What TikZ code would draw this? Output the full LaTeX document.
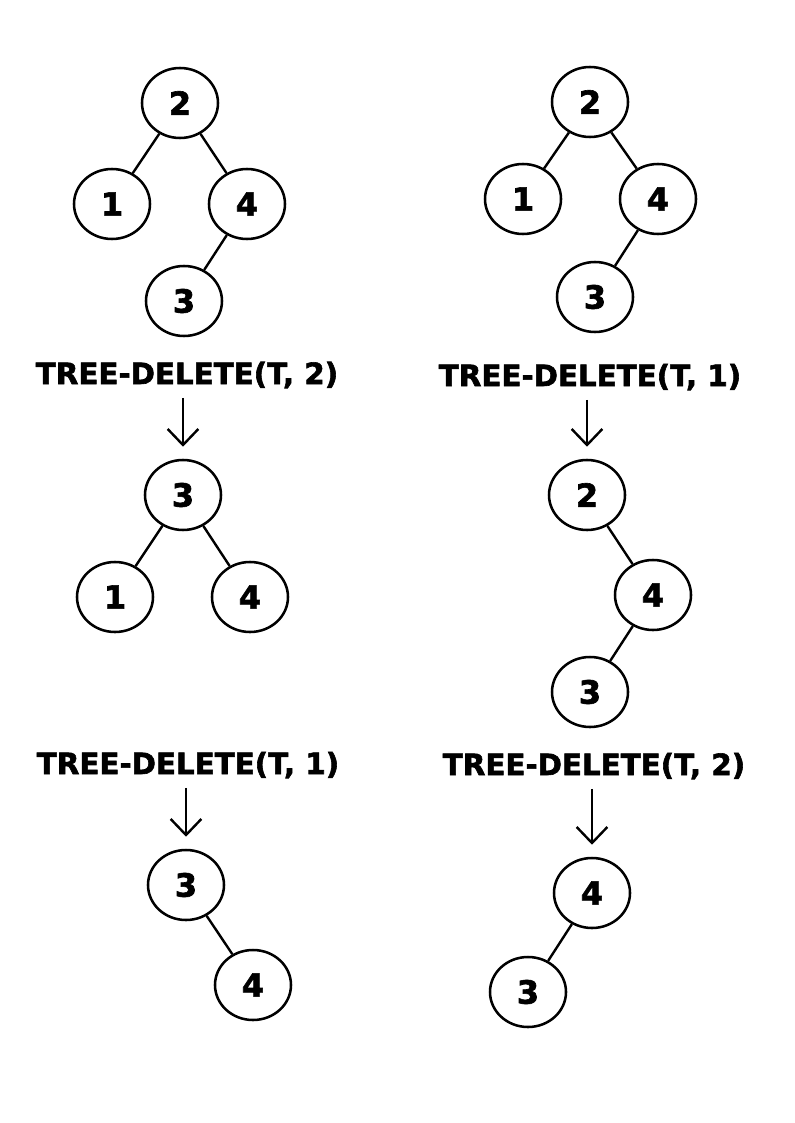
\documentclass[tikz,border=0pt]{standalone}
\usepackage{fontspec}
\setmainfont{DejaVu Sans}[BoldFeatures={FakeBold=2}]
\usetikzlibrary{arrows.meta,shapes.geometric}

\begin{document}
\begin{tikzpicture}[x=0.75pt,y=-0.75pt]
		\useasboundingbox (0,0) rectangle (794,1123);
		\begin{scope}[every node/.style={ellipse,draw,line width=1.9pt,minimum width=57pt,minimum height=52.5pt,inner sep=0pt,font=\bfseries\fontsize{24}{26}\selectfont}]
			% first column
			\node (A2) at (180,103) {2};
			\node (A1) at (112,204) {1};
			\node (A4) at (247,204) {4};
			\node (A3) at (184,301) {3};
			
			\node (B3) at (183,495) {3};
			\node (B1) at (115,597) {1};
			\node (B4) at (250,597) {4};
			
			\node (C3) at (186,885) {3};
			\node (C4) at (253,985) {4};
			
			% second column
			\node (D2) at (590,102) {2};
			\node (D1) at (523,199) {1};
			\node (D4) at (658,199) {4};
			\node (D3) at (595,297) {3};
			
			\node (E2) at (587,495) {2};
			\node (E4) at (653,595) {4};
			\node (E3) at (590,692) {3};
			
			\node (F4) at (592,893) {4};
			\node (F3) at (528,992) {3};
		\end{scope}
		
		\begin{scope}[every node/.style={font=\bfseries\fontsize{22}{26}\selectfont,inner sep=0pt}]
			\node (L1) at (187,375) {TREE-DELETE(T, 2)};
			\node (L2) at (590,377) {TREE-DELETE(T, 1)};
			\node (L3) at (188,765) {TREE-DELETE(T, 1)};
			\node (L4) at (594,766) {TREE-DELETE(T, 2)};
		\end{scope}
		
		\begin{scope}[every edge/.style={draw=black,line width=1.8pt}]
			\path [-] (A2) edge (A1);
			\path [-] (A2) edge (A4);
			\path [-] (A4) edge (A3);
			\path [-] (B3) edge (B1);
			\path [-] (B3) edge (B4);
			\path [-] (C3) edge (C4);
			\path [-] (D2) edge (D1);
			\path [-] (D2) edge (D4);
			\path [-] (D4) edge (D3);
			\path [-] (E2) edge (E4);
			\path [-] (E4) edge (E3);
			\path [-] (F4) edge (F3);
		\end{scope}
		
		\begin{scope}[>={Straight Barb[length=12pt,width=23pt,line width=1.8pt]},
					  every edge/.style={draw=black,line width=1.8pt,shorten <=7pt,shorten >=9pt}]
			\path [->] (L1.south -| B3) edge (B3.north);
			\path [->] (L2.south -| E2) edge (E2.north);
			\path [->] (L3.south -| C3) edge (C3.north);
			\path [->] (L4.south -| F4) edge (F4.north);
		\end{scope}
\end{tikzpicture}
\end{document}
